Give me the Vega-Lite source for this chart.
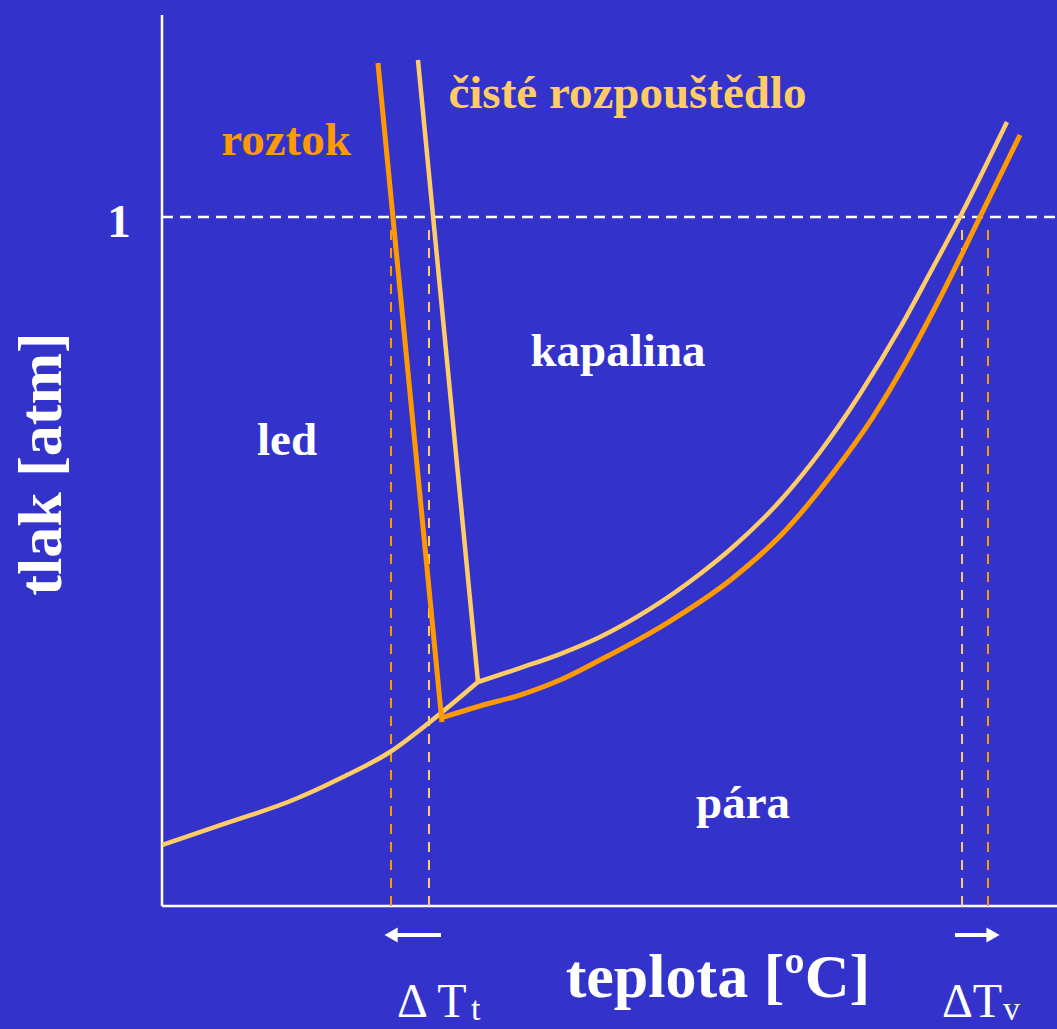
{
  "$schema": "https://vega.github.io/schema/vega-lite/v6.json",
  "width": 1057,
  "height": 1029,
  "autosize": "none",
  "padding": 0,
  "background": "#3333CC",
  "config": {"view": {"stroke": null}},
  "datasets": {
    "curves": [
      {"series": "sub", "kind": "solvent", "T": 0.0, "p": 0.0885},
      {"series": "sub", "kind": "solvent", "T": 7.26, "p": 0.1205},
      {"series": "sub", "kind": "solvent", "T": 14.64, "p": 0.1538},
      {"series": "sub", "kind": "solvent", "T": 20.22, "p": 0.1872},
      {"series": "sub", "kind": "solvent", "T": 25.47, "p": 0.2235},
      {"series": "sub", "kind": "solvent", "T": 29.94, "p": 0.2671},
      {"series": "sub", "kind": "solvent", "T": 35.31, "p": 0.3251},
      {"series": "vap", "kind": "solvent", "T": 35.31, "p": 0.3251},
      {"series": "vap", "kind": "solvent", "T": 40.0, "p": 0.3454},
      {"series": "vap", "kind": "solvent", "T": 44.47, "p": 0.3657},
      {"series": "vap", "kind": "solvent", "T": 48.94, "p": 0.3904},
      {"series": "vap", "kind": "solvent", "T": 54.53, "p": 0.4311},
      {"series": "vap", "kind": "solvent", "T": 60.11, "p": 0.4819},
      {"series": "vap", "kind": "solvent", "T": 63.8, "p": 0.521},
      {"series": "vap", "kind": "solvent", "T": 69.05, "p": 0.5878},
      {"series": "vap", "kind": "solvent", "T": 73.52, "p": 0.6589},
      {"series": "vap", "kind": "solvent", "T": 77.99, "p": 0.7431},
      {"series": "vap", "kind": "solvent", "T": 82.46, "p": 0.8389},
      {"series": "vap", "kind": "solvent", "T": 85.81, "p": 0.9187},
      {"series": "vap", "kind": "solvent", "T": 89.16, "p": 1.0},
      {"series": "vap", "kind": "solvent", "T": 94.41, "p": 1.1379},
      {"series": "melt", "kind": "solvent", "T": 28.6, "p": 1.2279},
      {"series": "melt", "kind": "solvent", "T": 35.31, "p": 0.3251},
      {"series": "vap", "kind": "solution", "T": 31.17, "p": 0.2729},
      {"series": "vap", "kind": "solution", "T": 35.53, "p": 0.2903},
      {"series": "vap", "kind": "solution", "T": 40.0, "p": 0.3062},
      {"series": "vap", "kind": "solution", "T": 44.47, "p": 0.328},
      {"series": "vap", "kind": "solution", "T": 48.94, "p": 0.357},
      {"series": "vap", "kind": "solution", "T": 56.42, "p": 0.4107},
      {"series": "vap", "kind": "solution", "T": 63.8, "p": 0.4761},
      {"series": "vap", "kind": "solution", "T": 69.39, "p": 0.5414},
      {"series": "vap", "kind": "solution", "T": 74.97, "p": 0.6284},
      {"series": "vap", "kind": "solution", "T": 79.44, "p": 0.7097},
      {"series": "vap", "kind": "solution", "T": 83.24, "p": 0.7925},
      {"series": "vap", "kind": "solution", "T": 86.93, "p": 0.8824},
      {"series": "vap", "kind": "solution", "T": 91.4, "p": 1.0},
      {"series": "vap", "kind": "solution", "T": 95.87, "p": 1.119},
      {"series": "melt", "kind": "solution", "T": 24.13, "p": 1.2235},
      {"series": "melt", "kind": "solution", "T": 31.28, "p": 0.267}
    ],
    "dropLines": [
      {"kind": "solution", "T": 25.59, "p": 0, "p2": 0.987},
      {"kind": "solvent", "T": 29.83, "p": 0, "p2": 0.987},
      {"kind": "solvent", "T": 89.39, "p": 0, "p2": 0.987},
      {"kind": "solution", "T": 92.29, "p": 0, "p2": 0.987}
    ]
  },
  "encoding": {
    "x": {"field": "T", "type": "quantitative", "scale": {"domain": [-18.1, 100], "nice": false, "zero": false}, "axis": null},
    "y": {"field": "p", "type": "quantitative", "scale": {"domain": [-0.1785, 1.3149], "nice": false, "zero": false}, "axis": null}
  },
  "layer": [
    {
      "data": {"values": [
        {"T": 0, "p": 0, "T2": 100, "p2": 0},
        {"T": 0, "p": 0, "T2": 0, "p2": 1.2932}
      ]},
      "mark": {"type": "rule", "color": "white", "strokeWidth": 2.5},
      "encoding": {"x2": {"field": "T2"}, "y2": {"field": "p2"}}
    },
    {
      "data": {"values": [{"T": 0, "p": 1, "T2": 100}]},
      "mark": {"type": "rule", "color": "white", "strokeWidth": 2.5, "strokeDash": [11, 7]},
      "encoding": {"x2": {"field": "T2"}}
    },
    {
      "data": {"name": "dropLines"},
      "mark": {"type": "rule", "strokeWidth": 2, "strokeDash": [10, 8]},
      "encoding": {
        "y2": {"field": "p2"},
        "color": {"field": "kind", "type": "nominal", "scale": {"domain": ["solvent", "solution"], "range": ["#FFCC66", "#FF9900"]}, "legend": null}
      }
    },
    {
      "data": {"name": "curves"},
      "transform": [{"filter": "datum.kind === 'solvent'"}],
      "mark": {"type": "line", "color": "#FFCC66", "strokeWidth": 4.5, "interpolate": "monotone"},
      "encoding": {"detail": {"field": "series", "type": "nominal"}}
    },
    {
      "data": {"name": "curves"},
      "transform": [{"filter": "datum.kind === 'solution'"}],
      "mark": {"type": "line", "color": "#FF9900", "strokeWidth": 5, "interpolate": "monotone"},
      "encoding": {"detail": {"field": "series", "type": "nominal"}}
    },
    {
      "data": {"values": [
        {"T": 26.03, "p": -0.0421, "T2": 31.17},
        {"T": 88.6, "p": -0.0421, "T2": 92.4}
      ]},
      "mark": {"type": "rule", "color": "white", "strokeWidth": 4},
      "encoding": {"x2": {"field": "T2"}}
    },
    {
      "data": {"values": [{"T": 25.6, "p": -0.0421}]},
      "mark": {"type": "point", "shape": "triangle-left", "filled": true, "color": "white", "opacity": 1, "size": 230}
    },
    {
      "data": {"values": [{"T": 92.85, "p": -0.0421}]},
      "mark": {"type": "point", "shape": "triangle-right", "filled": true, "color": "white", "opacity": 1, "size": 230}
    },
    {
      "data": {"values": [
        {"label": "kapalina", "T": 50.95, "p": 0.7837},
        {"label": "led", "T": 13.97, "p": 0.6546},
        {"label": "pára", "T": 64.92, "p": 0.1277},
        {"label": "1", "T": -4.8, "p": 0.971}
      ]},
      "mark": {"type": "text", "font": "Liberation Serif", "fontWeight": "bold", "fontSize": 47, "color": "white", "align": "center", "baseline": "alphabetic"},
      "encoding": {"text": {"field": "label"}}
    },
    {
      "data": {"values": [{"label": "roztok", "T": 13.85, "p": 1.09}]},
      "mark": {"type": "text", "font": "Liberation Serif", "fontWeight": "bold", "fontSize": 47, "color": "#FF9900", "align": "center", "baseline": "alphabetic"},
      "encoding": {"text": {"field": "label"}}
    },
    {
      "data": {"values": [{"label": "čisté rozpouštědlo", "T": 52.01, "p": 1.1582}]},
      "mark": {"type": "text", "font": "Liberation Serif", "fontWeight": "bold", "fontSize": 47, "color": "#FFCC66", "align": "center", "baseline": "alphabetic"},
      "encoding": {"text": {"field": "label"}}
    },
    {
      "data": {"values": [{"label": "tlak [atm]", "T": -11.28, "p": 0.6415}]},
      "mark": {"type": "text", "font": "Liberation Serif", "fontWeight": "bold", "fontSize": 62, "color": "white", "align": "center", "baseline": "alphabetic", "angle": 270},
      "encoding": {"text": {"field": "label"}}
    },
    {
      "data": {"values": [{"label": "teplota [ºC]", "T": 62.12, "p": -0.1321}]},
      "mark": {"type": "text", "font": "Liberation Serif", "fontWeight": "bold", "fontSize": 62, "color": "white", "align": "center", "baseline": "alphabetic"},
      "encoding": {"text": {"field": "label"}}
    },
    {
      "data": {"values": [
        {"label": "Δ T", "T": 26.26, "p": -0.1611},
        {"label": "ΔT", "T": 87.15, "p": -0.1611}
      ]},
      "mark": {"type": "text", "font": "Liberation Serif", "fontSize": 48, "color": "white", "align": "left", "baseline": "alphabetic"},
      "encoding": {"text": {"field": "label"}}
    },
    {
      "data": {"values": [
        {"label": "t", "T": 34.53, "p": -0.1655},
        {"label": "v", "T": 93.97, "p": -0.1655}
      ]},
      "mark": {"type": "text", "font": "Liberation Serif", "fontSize": 34, "color": "white", "align": "left", "baseline": "alphabetic"},
      "encoding": {"text": {"field": "label"}}
    }
  ]
}
